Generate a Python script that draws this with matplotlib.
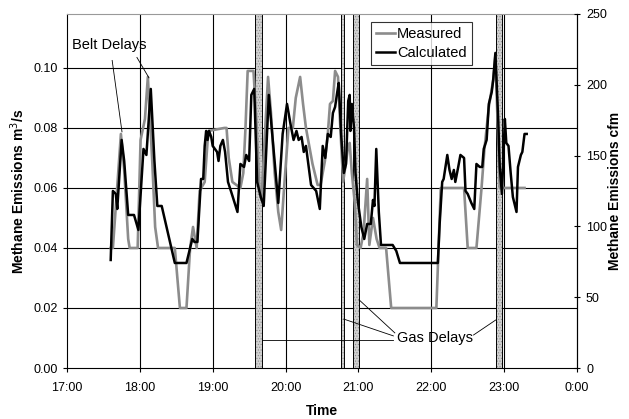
import matplotlib
matplotlib.use("Agg")
import matplotlib.pyplot as plt

plt.rcParams["font.family"] = ["Liberation Sans", "DejaVu Sans"]
plt.rcParams["hatch.linewidth"] = 0.5

CFM_PER_M3S = 1.0 / 0.000471947

# time in decimal hours, emissions in m3/s
measured_t = [17.60, 17.63, 17.70, 17.74, 17.785, 17.84, 17.86, 17.97, 18.01, 18.07,
              18.11, 18.17, 18.21, 18.25, 18.48, 18.55, 18.64, 18.69, 18.73, 18.78,
              18.82, 18.89, 18.94, 19.16, 19.19, 19.22, 19.27, 19.38, 19.42, 19.45,
              19.48, 19.56, 19.60, 19.64, 19.67, 19.71, 19.76, 19.80, 19.85, 19.90,
              19.94, 19.98, 20.04, 20.10, 20.14, 20.20, 20.24, 20.28, 20.37, 20.44,
              20.48, 20.54, 20.58, 20.61, 20.65, 20.68, 20.72, 20.75, 20.79, 20.82,
              20.86, 20.88, 20.91, 20.95, 20.98, 21.03, 21.07, 21.12, 21.15, 21.20,
              21.25, 21.29, 21.38, 21.45, 22.07, 22.10, 22.13, 22.45, 22.50, 22.62,
              22.69, 22.73, 22.79, 22.85, 22.88, 22.92, 22.94, 23.28]
measured_v = [0.040, 0.040, 0.064, 0.078, 0.066, 0.043, 0.040, 0.040, 0.076, 0.083,
              0.097, 0.069, 0.047, 0.040, 0.040, 0.020, 0.020, 0.040, 0.047, 0.040,
              0.059, 0.062, 0.079, 0.080, 0.080, 0.070, 0.062, 0.060, 0.065, 0.080,
              0.099, 0.099, 0.082, 0.060, 0.056, 0.075, 0.097, 0.085, 0.065, 0.052,
              0.046, 0.060, 0.080, 0.080, 0.090, 0.097, 0.088, 0.080, 0.068, 0.061,
              0.061, 0.069, 0.078, 0.088, 0.089, 0.099, 0.097, 0.081, 0.062, 0.067,
              0.074, 0.075, 0.065, 0.055, 0.041, 0.040, 0.045, 0.063, 0.041, 0.050,
              0.043, 0.040, 0.040, 0.020, 0.020, 0.040, 0.060, 0.060, 0.040, 0.040,
              0.060, 0.073, 0.087, 0.096, 0.104, 0.075, 0.060, 0.060]

calculated_t = [17.60, 17.63, 17.67, 17.69, 17.75, 17.785, 17.84, 17.86, 17.92, 17.98,
                18.05, 18.09, 18.15, 18.20, 18.24, 18.30, 18.48, 18.64, 18.72, 18.75,
                18.79, 18.84, 18.87, 18.89, 18.91, 18.93, 18.95, 18.98, 19.00, 19.03,
                19.06, 19.08, 19.105, 19.14, 19.17, 19.21, 19.25, 19.34, 19.38, 19.43,
                19.46, 19.50, 19.53, 19.57, 19.61, 19.66, 19.70, 19.77, 19.85, 19.90,
                19.96, 20.02, 20.07, 20.11, 20.15, 20.18, 20.22, 20.25, 20.28, 20.35,
                20.42, 20.47, 20.51, 20.545, 20.58, 20.62, 20.65, 20.68, 20.71, 20.73,
                20.765, 20.80, 20.83, 20.86, 20.88, 20.89, 20.91, 20.94, 20.96, 20.99,
                21.04, 21.08, 21.12, 21.17, 21.20, 21.22, 21.245, 21.28, 21.31, 21.47,
                21.52, 21.57, 22.09, 22.115, 22.15, 22.17, 22.22, 22.25, 22.28, 22.31,
                22.33, 22.37, 22.40, 22.45, 22.47, 22.50, 22.55, 22.59, 22.62, 22.665,
                22.70, 22.72, 22.76, 22.79, 22.83, 22.85, 22.88, 22.92, 22.94, 22.97,
                23.01, 23.03, 23.06, 23.09, 23.12, 23.17, 23.19, 23.23, 23.25, 23.28,
                23.31]
calculated_v = [0.036, 0.059, 0.058, 0.053, 0.076, 0.069, 0.051, 0.051, 0.051, 0.046,
                0.073, 0.071, 0.093, 0.069, 0.054, 0.054, 0.035, 0.035, 0.043, 0.042,
                0.042, 0.063, 0.063, 0.074, 0.079, 0.076, 0.079, 0.077, 0.074, 0.073,
                0.072, 0.069, 0.074, 0.076, 0.072, 0.062, 0.059, 0.052, 0.068, 0.067,
                0.071, 0.069, 0.091, 0.093, 0.062, 0.057, 0.054, 0.091, 0.069, 0.055,
                0.078, 0.088, 0.081, 0.076, 0.079, 0.076, 0.077, 0.072, 0.074, 0.061,
                0.059, 0.053, 0.074, 0.070, 0.078, 0.077, 0.085, 0.087, 0.092, 0.095,
                0.077, 0.065, 0.068, 0.089, 0.091, 0.079, 0.088, 0.080, 0.065, 0.056,
                0.047, 0.043, 0.048, 0.048, 0.056, 0.054, 0.073, 0.052, 0.041, 0.041,
                0.039, 0.035, 0.035, 0.048, 0.062, 0.063, 0.071, 0.066, 0.063, 0.066,
                0.062, 0.067, 0.071, 0.070, 0.059, 0.058, 0.055, 0.053, 0.068, 0.067,
                0.067, 0.073, 0.076, 0.088, 0.092, 0.096, 0.105, 0.082, 0.067, 0.058,
                0.083, 0.075, 0.074, 0.065, 0.057, 0.052, 0.067, 0.071, 0.072, 0.078,
                0.078]

# gas delay periods (start, end) in decimal hours
gas_delays = [(19.585, 19.67), (20.755, 20.80), (20.925, 21.01), (22.895, 22.97)]

hour_ticks = [17, 18, 19, 20, 21, 22, 23, 24]
left_ticks = [0.00, 0.02, 0.04, 0.06, 0.08, 0.10]
right_ticks = [0, 50, 100, 150, 200, 250]

fig = plt.figure(figsize=(6.29, 4.19), dpi=100)
ax = fig.add_axes([0.1065, 0.1217, 0.8108, 0.845])

y_top = 250 / CFM_PER_M3S
ax.set_xlim(17, 24)
ax.set_ylim(0, y_top)

# grid
for h in hour_ticks[1:-1]:
    ax.axvline(h, color="black", lw=0.8, zorder=1)
for v in left_ticks[1:]:
    ax.axhline(v, color="black", lw=0.8, zorder=1)

# shaded delay bars: dotted grey fill plus black outline
for t0, t1 in gas_delays:
    ax.axvspan(t0, t1, facecolor="#d0d0d0", edgecolor="#8a8a8a", lw=0,
               hatch="......", zorder=2)
    ax.axvspan(t0, t1, fill=False, edgecolor="black", lw=0.7, zorder=2)

ax.plot(measured_t, measured_v, color="#8c8c8c", lw=1.9, label="Measured", zorder=3)
ax.plot(calculated_t, calculated_v, color="black", lw=1.8, label="Calculated", zorder=4)

ax.set_xticks(hour_ticks)
ax.set_xticklabels([f"{h % 24}:00" for h in hour_ticks])
ax.set_yticks(left_ticks)
ax.set_yticklabels([f"{v:.2f}" for v in left_ticks])
ax.tick_params(axis="both", labelsize=9, direction="out", length=3, width=0.8)
ax.tick_params(axis="x", pad=7)
ax.set_xlabel("Time", fontsize=10, fontweight="bold", labelpad=7)
ax.set_ylabel("Methane Emissions m$^3$/s", fontsize=10, fontweight="bold", labelpad=5)
ax.spines["top"].set_color("#999999")
for s in ["left", "bottom", "right"]:
    ax.spines[s].set_linewidth(0.8)

ax2 = ax.twinx()
ax2.set_ylim(0, 250)
ax2.set_yticks(right_ticks)
ax2.tick_params(axis="y", labelsize=9, direction="inout", length=5, width=0.8, pad=4)
ax2.set_ylabel("Methane Emissions cfm", fontsize=10, fontweight="bold", labelpad=1)
for s in ax2.spines.values():
    s.set_visible(False)
ax2.spines["right"].set_visible(True)
ax2.spines["right"].set_linewidth(0.8)

leg = ax.legend(loc="upper left", bbox_to_anchor=(0.596, 0.977), fontsize=10.5,
                frameon=True, fancybox=False, handlelength=1.3, handletextpad=0.15,
                borderpad=0.35, labelspacing=0.35, borderaxespad=0)
leg.get_frame().set_edgecolor("black")
leg.get_frame().set_linewidth(0.8)

# annotations
ax.text(17.07, 0.1075, "Belt Delays", fontsize=10.5, va="center", ha="left", zorder=6)
ax.plot([17.62, 17.755], [0.1025, 0.0787], color="black", lw=0.6, zorder=6)
ax.plot([17.96, 18.125], [0.1035, 0.0967], color="black", lw=0.6, zorder=6)

ax.text(21.53, 0.0100, "Gas Delays", fontsize=10.5, va="center", ha="left", zorder=6)
ax.plot([19.675, 21.48], [0.0093, 0.0093], color="black", lw=0.6, zorder=6)
ax.plot([21.48, 20.80], [0.0107, 0.0163], color="black", lw=0.6, zorder=6)
ax.plot([21.50, 21.01], [0.0117, 0.0227], color="black", lw=0.6, zorder=6)
ax.plot([22.58, 22.885], [0.0110, 0.0160], color="black", lw=0.6, zorder=6)

fig.savefig("out.png", dpi=100)
